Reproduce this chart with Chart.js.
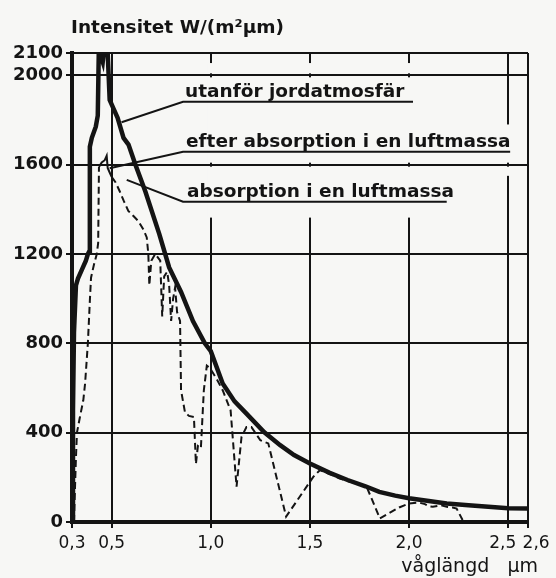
<!DOCTYPE html>
<html>
<head>
<meta charset="utf-8">
<script src="https://cdn.jsdelivr.net/npm/chart.js@4.4.1/dist/chart.umd.min.js"></script>
<style>
  html, body { margin: 0; padding: 0; background: #f7f7f5; }
</style>
</head>
<body>
<canvas id="spectrum" width="556" height="578"></canvas>
<script>
// våglängd (µm) / intensitet W/(m²µm)
const extWl  = [0.30, 0.305, 0.31, 0.32, 0.33, 0.35, 0.37, 0.38, 0.386, 0.39, 0.40, 0.42, 0.43, 0.435, 0.44, 0.455, 0.46, 0.48, 0.49, 0.51, 0.53, 0.56, 0.585, 0.62, 0.67, 0.74, 0.79, 0.85, 0.91, 0.97, 1.00, 1.06, 1.12, 1.18, 1.27, 1.35, 1.42, 1.50, 1.60, 1.69, 1.78, 1.85, 1.93, 2.00, 2.10, 2.19, 2.30, 2.40, 2.50, 2.60];
const extVal = [0, 500, 850, 1060, 1090, 1130, 1170, 1200, 1210, 1680, 1720, 1770, 1820, 2100, 2100, 2060, 2100, 2100, 1890, 1850, 1810, 1720, 1690, 1600, 1480, 1290, 1140, 1030, 900, 800, 765, 620, 540, 485, 402, 344, 300, 262, 220, 188, 160, 135, 118, 106, 94, 83, 75, 68, 62, 60];

const absWl  = [0.31, 0.315, 0.32, 0.325, 0.34, 0.357, 0.366, 0.38, 0.39, 0.396, 0.41, 0.425, 0.432, 0.436, 0.45, 0.465, 0.475, 0.48, 0.49, 0.50, 0.52, 0.54, 0.56, 0.584, 0.61, 0.634, 0.66, 0.677, 0.685, 0.69, 0.70, 0.72, 0.745, 0.755, 0.765, 0.78, 0.79, 0.80, 0.81, 0.82, 0.83, 0.845, 0.85, 0.87, 0.89, 0.915, 0.925, 0.935, 0.95, 0.965, 0.98, 0.995, 1.03, 1.06, 1.10, 1.13, 1.155, 1.18, 1.205, 1.25, 1.29, 1.38, 1.517, 1.55, 1.60, 1.65, 1.70, 1.74, 1.786, 1.853, 1.95, 2.00, 2.05, 2.08, 2.10, 2.12, 2.16, 2.19, 2.22, 2.24, 2.27];
const absVal = [0, 150, 290, 400, 470, 545, 620, 800, 990, 1094, 1150, 1200, 1250, 1590, 1610, 1620, 1640, 1585, 1565, 1545, 1520, 1482, 1440, 1393, 1370, 1348, 1310, 1274, 1200, 1060, 1170, 1200, 1170, 920, 1100, 1120, 1060, 900, 1000, 1050, 940, 900, 590, 490, 475, 470, 260, 340, 330, 590, 700, 690, 640, 590, 500, 158, 381, 425, 425, 366, 352, 24, 202, 232, 215, 195, 180, 173, 158, 16, 65, 83, 87, 80, 70, 68, 75, 68, 65, 60, 9];

const xTicks = [0.3, 0.5, 1.0, 1.5, 2.0, 2.5, 2.6];
const yTicks = [0, 400, 800, 1200, 1600, 2000, 2100];
const curveNames = ['utanför jordatmosfär', 'efter absorption i en luftmassa', 'absorption i en luftmassa'];
const yTitle = 'Intensitet W/(m²µm)';
const xTitle = 'våglängd   µm';

const ink = '#141414';
const paper = '#f7f7f5';
const font = 'DejaVu Sans';

// texter med understrykning och pekarlinje (i dataenheter)
const callouts = [
    { text: curveNames[0], x: 0.87, y: 1903, lineY: 1882, lineEnd: 2.02, to: [0.55, 1790] },
    { text: curveNames[1], x: 0.875, y: 1679, lineY: 1658, lineEnd: 2.51, to: [0.49, 1584] },
    { text: curveNames[2], x: 0.88, y: 1455, lineY: 1434, lineEnd: 2.19, to: [0.576, 1532] }
];
// där de lodräta rutlinjerna är avbrutna bakom texterna
const gridGaps = [
    { at: 1.0, from: 2055, to: 1363 },
    { at: 1.5, from: 2055, to: 1363 },
    { at: 2.0, from: 2055, to: 1363 },
    { at: 2.5, from: 1780, to: 1550 }
];

const gapPlugin = {
    id: 'gridGaps',
    beforeDatasetsDraw(chart) {
        const { ctx, scales: { x, y } } = chart;
        const rows = yTicks.map(v => y.getPixelForValue(v));
        ctx.save();
        ctx.fillStyle = paper;
        gridGaps.forEach(g => {
            const px = x.getPixelForValue(g.at);
            const top = y.getPixelForValue(g.from);
            const bottom = y.getPixelForValue(g.to);
            const cuts = rows.filter(p => p > top && p < bottom).sort((a, b) => a - b);
            let start = top;
            cuts.concat([bottom]).forEach(c => {
                const end = c === bottom ? bottom : c - 2;
                if (end > start) ctx.fillRect(px - 3, start, 6, end - start);
                start = c + 2;
            });
        });
        ctx.restore();
    }
};

const textPlugin = {
    id: 'callouts',
    afterDatasetsDraw(chart) {
        const { ctx, chartArea, scales: { x, y } } = chart;
        ctx.save();
        ctx.fillStyle = ink;
        ctx.strokeStyle = ink;
        ctx.lineWidth = 2;
        ctx.font = `bold 18.5px "${font}"`;
        ctx.textBaseline = 'alphabetic';
        callouts.forEach(c => {
            const x0 = x.getPixelForValue(0.86);
            const ly = y.getPixelForValue(c.lineY);
            ctx.fillText(c.text, x.getPixelForValue(c.x), y.getPixelForValue(c.y));
            ctx.beginPath();
            ctx.moveTo(x.getPixelForValue(c.to[0]), y.getPixelForValue(c.to[1]));
            ctx.lineTo(x0, ly);
            ctx.lineTo(x.getPixelForValue(c.lineEnd), ly);
            ctx.stroke();
        });
        // axeltexter
        ctx.font = `bold 18.5px "${font}"`;
        ctx.fillText(yTitle, chartArea.left - 1, chartArea.top - 20);
        ctx.font = `19px "${font}"`;
        ctx.textAlign = 'right';
        ctx.fillText(xTitle, chartArea.right + 10, chartArea.bottom + 50);
        ctx.restore();
    }
};

const toPoints = (xs, ys) => xs.map((v, i) => ({ x: v, y: ys[i] }));

new Chart(document.getElementById('spectrum'), {
    type: 'line',
    data: {
        datasets: [
            {
                label: curveNames[0],
                data: toPoints(extWl, extVal),
                borderColor: ink,
                borderWidth: 4.5,
                pointRadius: 0,
                tension: 0
            },
            {
                label: curveNames[1],
                data: toPoints(absWl, absVal),
                borderColor: ink,
                borderWidth: 2,
                borderDash: [7, 4],
                pointRadius: 0,
                tension: 0,
                segment: {
                    // toppen vid 0,44-0,50 är heldragen
                    borderDash: c => (c.p0.parsed.x >= 0.436 && c.p1.parsed.x <= 0.5 ? [] : [7, 4])
                }
            }
        ]
    },
    options: {
        responsive: false,
        animation: false,
        layout: { padding: { top: 53, right: 28, left: 0, bottom: 0 } },
        plugins: {
            legend: { display: false },
            tooltip: { enabled: false }
        },
        scales: {
            x: {
                type: 'linear',
                min: 0.3,
                max: 2.6,
                afterBuildTicks: s => { s.ticks = xTicks.map(v => ({ value: v })); },
                afterFit: s => { s.height = 56; s.paddingLeft = 0; s.paddingRight = 0; },
                ticks: {
                    autoSkip: false,
                    maxRotation: 0,
                    padding: 5,
                    color: ink,
                    font: { family: font, size: 17 },
                    callback: v => {
                        const t = v.toFixed(1).replace('.', ',');
                        if (v === 2.5) return t + '  ';
                        if (v === 2.6) return '   ' + t;
                        return t;
                    }
                },
                grid: { color: ink, lineWidth: 2, tickLength: 6, tickColor: ink },
                border: { color: ink, width: 4 }
            },
            y: {
                min: 0,
                max: 2100,
                afterBuildTicks: s => { s.ticks = yTicks.map(v => ({ value: v })); },
                afterFit: s => { s.width = 72; },
                ticks: {
                    padding: 3,
                    color: ink,
                    font: { family: font, size: 18, weight: 'bold' },
                    callback: v => String(v)
                },
                grid: { color: ink, lineWidth: 2, tickLength: 6, tickColor: ink },
                border: { color: ink, width: 4 }
            }
        }
    },
    plugins: [gapPlugin, textPlugin]
});
</script>
</body>
</html>
